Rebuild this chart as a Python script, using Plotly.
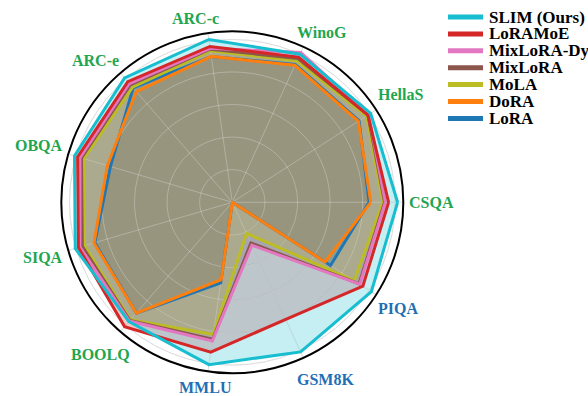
import math
import plotly.graph_objects as go

# Benchmarks around the radar, counter-clockwise from the right
categories = ["CSQA", "HellaS", "WinoG", "ARC-c", "ARC-e", "OBQA",
              "SIQA", "BOOLQ", "MMLU", "GSM8K", "PIQA"]
# Commonsense tasks in green, math / knowledge tasks in blue
label_groups = ["cs", "cs", "cs", "cs", "cs", "cs", "cs", "cs", "kn", "kn", "kn"]

# Normalised scores per method (same order as categories)
slim       = [1.015, 1.010, 1.000, 1.010, 1.010, 1.010, 1.005, 0.970, 1.007, 1.010, 1.015]
loramoe    = [0.960, 0.990, 0.980, 0.967, 0.980, 0.990, 0.985, 1.010, 0.930, 0.790, 0.953]
mixlora_dy = [0.940, 0.995, 1.012, 0.955, 0.965, 0.975, 0.975, 0.965, 0.860, 0.290, 0.930]
mixlora    = [0.935, 0.990, 0.970, 0.950, 0.955, 0.965, 0.960, 0.960, 0.850, 0.275, 0.925]
mola       = [0.925, 0.980, 0.955, 0.940, 0.935, 0.950, 0.945, 0.955, 0.820, 0.210, 0.890]
dora       = [0.850, 0.920, 0.925, 0.905, 0.900, 0.800, 0.885, 0.900, 0.480, 0.000, 0.677]
lora       = [0.840, 0.925, 0.930, 0.905, 0.930, 0.780, 0.880, 0.900, 0.500, 0.000, 0.717]

method_names = ["SLIM (Ours)", "LoRAMoE", "MixLoRA-Dy", "MixLoRA", "MoLA", "DoRA", "LoRA"]
method_values = [slim, loramoe, mixlora_dy, mixlora, mola, dora, lora]
method_colors = ["#17becf", "#d62728", "#e377c2", "#8c564b", "#bcbd22", "#ff7f0e", "#1f77b4"]

# Stacking of the translucent fills (bottom to top)
fill_order = ["LoRAMoE", "MixLoRA-Dy", "MixLoRA", "SLIM (Ours)", "MoLA", "DoRA", "LoRA"]

group_colors = {"cs": "#1fa64f", "kn": "#1f6fb5"}
serif = "Liberation Serif"

W, H = 588, 396
CX, CY = 232.3, 202.3   # polar centre in pixels
R_MAX = 1.05            # radial axis range
POLAR_PX = 171          # polar radius in pixels
RADIAL_TICKS = [0.2, 0.4, 0.6, 0.8, 1.0]
LABEL_SIZE = 16

# Times-Bold advance widths (1/1000 em) for the label glyphs
GLYPH_W = {"A": 722, "B": 667, "C": 722, "E": 667, "G": 778, "H": 778, "I": 389,
           "K": 778, "L": 667, "M": 944, "O": 778, "P": 611, "Q": 778, "R": 722,
           "S": 556, "U": 722, "W": 1000, "8": 500, "a": 500, "c": 444, "e": 444,
           "i": 278, "l": 278, "n": 556, "o": 500, "-": 333}
# small hand nudges (px) for labels crowding the top and bottom
LABEL_NUDGE = {"WinoG": (10, 6), "ARC-c": (-10, 1), "ARC-e": (-8, 7), "GSM8K": (12, 0)}

n = len(categories)
angles = [360.0 * k / n for k in range(n)]


def rgba(hex_color, alpha):
    h = hex_color.lstrip("#")
    r, g, b = int(h[0:2], 16), int(h[2:4], 16), int(h[4:6], 16)
    return f"rgba({r},{g},{b},{alpha})"


fig = go.Figure()
series = {name: (vals, col) for name, vals, col in zip(method_names, method_values, method_colors)}

# 1) translucent areas
for name in fill_order:
    vals, col = series[name]
    fig.add_trace(go.Scatterpolar(
        r=vals + vals[:1], theta=angles + angles[:1],
        mode="lines", line=dict(width=0, color=col),
        fill="toself", fillcolor=rgba(col, 0.25),
        showlegend=False, hoverinfo="skip",
    ))

# 2) light grid drawn over the areas
grid_over = "rgba(255,255,255,0.3)"
circle_theta = [i * 2.0 for i in range(181)]
for rv in RADIAL_TICKS:
    fig.add_trace(go.Scatterpolar(
        r=[rv] * len(circle_theta), theta=circle_theta, mode="lines",
        line=dict(color=grid_over, width=1), showlegend=False, hoverinfo="skip"))
for a in angles:
    fig.add_trace(go.Scatterpolar(
        r=[0, R_MAX], theta=[a, a], mode="lines",
        line=dict(color=grid_over, width=1), showlegend=False, hoverinfo="skip"))

# 3) outlines, proposed method on top
for name in reversed(method_names):
    vals, col = series[name]
    fig.add_trace(go.Scatterpolar(
        r=vals + vals[:1], theta=angles + angles[:1],
        mode="lines", name=name, line=dict(color=col, width=3),
        showlegend=False, hoverinfo="name+r",
    ))

fig.update_layout(
    width=W, height=H,
    margin=dict(l=0, r=0, t=0, b=0),
    paper_bgcolor="white",
    plot_bgcolor="white",
    font=dict(family=serif, size=16, color="black", weight="bold"),
    polar=dict(
        domain=dict(x=[(CX - POLAR_PX) / W, (CX + POLAR_PX) / W],
                    y=[1 - (CY + POLAR_PX) / H, 1 - (CY - POLAR_PX) / H]),
        bgcolor="white",
        radialaxis=dict(
            range=[0, R_MAX], tickvals=RADIAL_TICKS,
            showticklabels=False, ticks="", showline=False,
            gridcolor="#d0d0d0", gridwidth=1,
        ),
        angularaxis=dict(
            rotation=0, direction="counterclockwise",
            tickvals=angles, showticklabels=False, ticks="",
            showline=True, linecolor="black", linewidth=2,
            gridcolor="#d0d0d0", gridwidth=1,
        ),
    ),
)

# Category labels just outside the rim, pushed out by half their box size
for k, (c, g) in enumerate(zip(categories, label_groups)):
    ang = math.radians(angles[k])
    half_w = 0.5 * LABEL_SIZE * sum(GLYPH_W.get(ch, 556) for ch in c) / 1000
    half_h = 0.5 * LABEL_SIZE * 0.78
    r_px = POLAR_PX + 6 + half_w * abs(math.cos(ang)) + half_h * abs(math.sin(ang))
    dx, dy = LABEL_NUDGE.get(c, (0, 0))
    x = CX + r_px * math.cos(ang) + dx
    y = CY - r_px * math.sin(ang) + dy
    fig.add_annotation(xref="paper", yref="paper", x=x / W, y=1 - y / H,
                       text=c, showarrow=False, xanchor="center", yanchor="middle",
                       font=dict(family=serif, size=LABEL_SIZE, weight="bold",
                                 color=group_colors[g]))

# Legend drawn as line samples with labels, top right
leg_x0, leg_x1, leg_text_x = 448, 483, 487
leg_top, leg_step = 17, 16.9
for i, (name, col) in enumerate(zip(method_names, method_colors)):
    y = leg_top + i * leg_step
    yp = 1 - y / H
    fig.add_shape(type="line", xref="paper", yref="paper",
                  x0=leg_x0 / W, x1=leg_x1 / W, y0=yp, y1=yp,
                  line=dict(color=col, width=5))
    fig.add_annotation(xref="paper", yref="paper", x=leg_text_x / W, y=yp,
                       text=name, showarrow=False, xanchor="left", yanchor="middle",
                       font=dict(family=serif, size=17, color="black", weight="bold"))

fig.write_html("out.html")
